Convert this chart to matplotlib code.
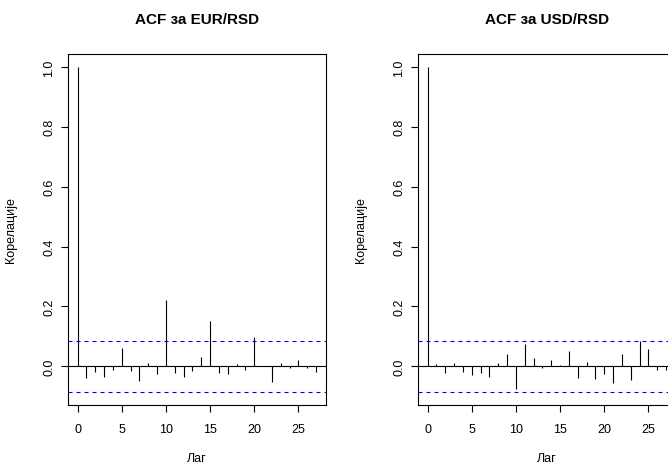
import matplotlib
matplotlib.use("Agg")
import matplotlib.pyplot as plt
import matplotlib.transforms as mtransforms

plt.rcParams['font.family'] = ['Liberation Sans', 'DejaVu Sans']

lags = list(range(28))

acf_eur = [1.0, -0.038, -0.019, -0.037, -0.012, 0.060, -0.016, -0.049, 0.010, -0.026,
           0.223, -0.023, -0.036, -0.016, 0.032, 0.152, -0.022, -0.026, 0.008, -0.012,
           0.099, 0.002, -0.051, 0.010, -0.007, 0.021, -0.007, -0.020]

acf_usd = [1.0, 0.009, -0.022, 0.010, -0.019, -0.029, -0.022, -0.037, 0.010, 0.040,
           -0.076, 0.073, 0.028, -0.004, 0.020, 0.006, 0.050, -0.039, 0.016, -0.043,
           -0.026, -0.056, 0.042, -0.047, 0.086, 0.057, -0.012, -0.011]

conf_bound = 0.0857

titles = ["ACF за EUR/RSD", "ACF за USD/RSD"]
xlabel = "Лаг"
ylabel = "Корелације"
xticks = [0, 5, 10, 15, 20, 25]
yticks = [0.0, 0.2, 0.4, 0.6, 0.8, 1.0]

W, H = 668, 464
fig = plt.figure(figsize=(W / 100, H / 100), dpi=100)

panel_left = [68, 418]
pw = 257.7
top_px, bot_px = 55, 406

series = [acf_eur, acf_usd]

for i in range(2):
    ax = fig.add_axes([panel_left[i] / W, 1 - bot_px / H, pw / W, (bot_px - top_px) / H])
    vals = series[i]
    ax.vlines(lags, 0, vals, colors='black', linewidth=0.8)
    ax.axhline(0, color='black', linewidth=0.8)
    for b in (conf_bound, -conf_bound):
        ax.axhline(b, color='#0000ff', linewidth=0.8, linestyle=(0, (3.6, 3.6)))

    xr = lags[-1] - lags[0]
    ax.set_xlim(lags[0] - 0.04 * xr, lags[-1] + 0.04 * xr)
    ylo = min(min(vals), -conf_bound)
    yhi = max(max(vals), conf_bound)
    yr = yhi - ylo
    ax.set_ylim(ylo - 0.04 * yr, yhi + 0.04 * yr)

    ax.set_xticks(xticks)
    ax.set_xticklabels([str(t) for t in xticks])
    ax.set_yticks(yticks)
    ax.set_yticklabels([f"{t:.1f}" for t in yticks], rotation=90, va='center')
    ax.tick_params(direction='out', length=5, width=0.8, labelsize=9, color='black')
    ax.tick_params(axis='x', pad=8)
    ax.tick_params(axis='y', pad=4)
    for s in ax.spines.values():
        s.set_linewidth(0.8)
        s.set_color('black')

    ax.set_xlabel(xlabel, fontsize=9)
    ax.xaxis.set_label_coords(0.5, -0.135)
    ax.set_ylabel(ylabel, fontsize=9)
    ax.yaxis.set_label_coords(-0.198, 0.5)

    trans = mtransforms.blended_transform_factory(ax.transAxes, fig.transFigure)
    ax.text(0.5, 1 - 20 / H, titles[i], transform=trans, ha='center', va='center',
            fontsize=11, fontweight='bold')

fig.savefig("out.png", dpi=100)
